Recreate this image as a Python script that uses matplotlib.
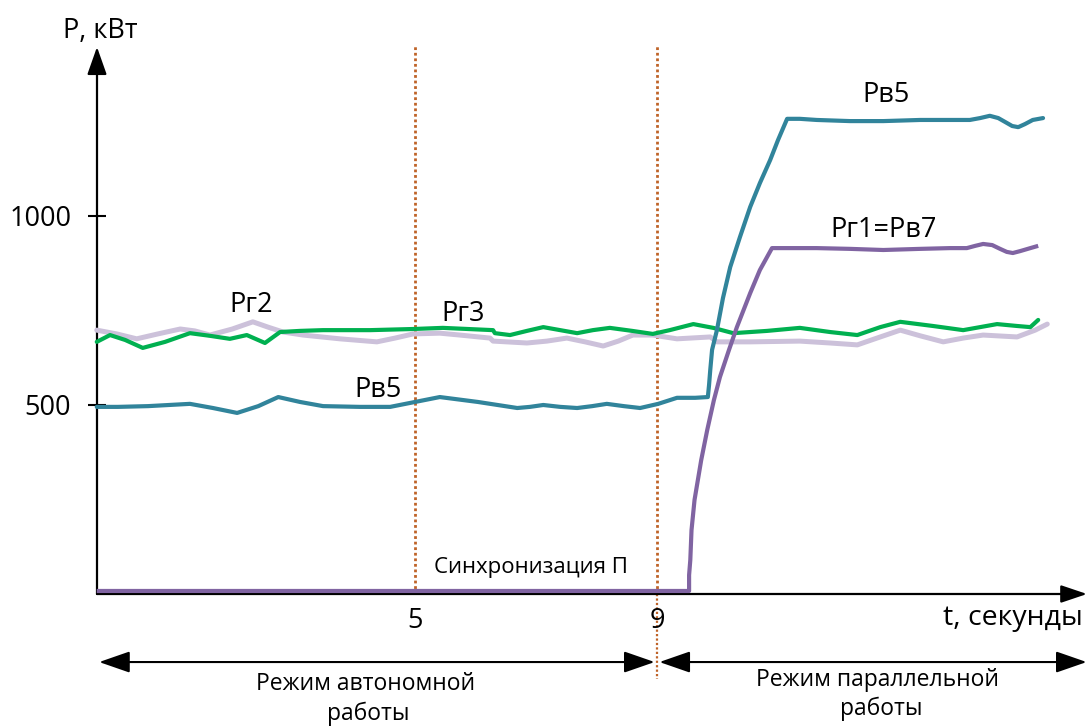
import matplotlib
matplotlib.use("Agg")
import matplotlib.pyplot as plt

FONT = ["Open Sans", "DejaVu Sans"]
plt.rcParams["font.family"] = FONT

# ---------------- data (t in seconds, P in kW) ----------------
# Pв5 (teal)
pv5_t = [-0.26, 0.09, 0.59, 1.28, 1.66, 2.06, 2.41, 2.74, 3.10, 3.48, 4.09, 4.59,
         5.00, 5.41, 6.04, 6.69, 6.90, 7.12, 7.40, 7.68, 7.93, 8.17, 8.45, 8.72,
         9.02, 9.33, 9.63, 9.84, 9.86, 9.88, 9.91, 9.99, 10.09, 10.21, 10.37,
         10.54, 10.70, 10.87, 11.00, 11.15, 11.36, 11.64, 12.19, 12.74, 13.35,
         13.84, 14.17, 14.34, 14.50, 14.64, 14.75, 14.87, 14.97, 15.08, 15.21, 15.38]
pv5_p = [495, 495, 497, 503, 492, 479, 497, 521, 508, 497, 495, 495,
         508, 521, 508, 492, 495, 500, 495, 492, 497, 503, 497, 492,
         503, 519, 519, 521, 553, 593, 646, 698, 783, 865, 944,
         1024, 1087, 1148, 1201, 1257, 1257, 1254, 1251, 1251, 1254,
         1254, 1254, 1259, 1265, 1259, 1249, 1238, 1235, 1243, 1254, 1259]

# Pг1 = Pв7 (purple)
pg1_t = [-0.26, 9.53, 9.53, 9.55, 9.57, 9.62, 9.73, 9.83, 9.94, 10.04, 10.19,
         10.32, 10.54, 10.70, 10.90, 11.36, 11.64, 12.19, 12.74, 13.35, 13.84,
         14.12, 14.26, 14.39, 14.54, 14.67, 14.78, 14.88, 15.00, 15.17, 15.30]
pg1_p = [8, 8, 50, 90, 169, 249, 354, 434, 513, 574, 646,
         706, 796, 857, 915, 915, 915, 913, 910, 913, 915,
         915, 921, 926, 923, 913, 905, 902, 907, 915, 921]

# Pг3 (green)
pg3_t = [-0.26, -0.04, 0.21, 0.50, 0.87, 1.28, 1.61, 1.94, 2.22, 2.52, 2.77,
         3.10, 3.48, 4.26, 4.97, 5.46, 6.29, 6.32, 6.57, 6.85, 7.12, 7.40, 7.68,
         7.94, 8.22, 8.59, 8.93, 9.21, 9.60, 9.93, 10.26, 10.82, 11.36, 11.86,
         12.31, 12.69, 13.02, 13.56, 14.06, 14.62, 14.95, 15.17, 15.30]
pg3_p = [667, 685, 672, 651, 667, 690, 683, 675, 685, 664, 693,
         696, 698, 698, 701, 704, 698, 690, 685, 696, 706, 698, 690,
         698, 704, 696, 688, 698, 714, 704, 690, 696, 704, 693,
         685, 706, 720, 709, 698, 714, 709, 706, 725]

# Pг2 (lavender)
pg2_t = [-0.26, 0.07, 0.40, 0.75, 1.12, 1.36, 1.61, 1.98, 2.32, 2.57, 2.82,
         3.15, 3.76, 4.37, 4.67, 4.97, 5.41, 5.74, 6.24, 6.29, 6.85, 7.18, 7.51,
         7.81, 8.11, 8.36, 8.60, 8.93, 9.33, 9.88, 9.99, 10.54, 11.36, 11.86,
         12.31, 12.69, 13.02, 13.35, 13.73, 14.06, 14.39, 14.95, 15.25, 15.45]
pg2_p = [698, 688, 675, 688, 701, 696, 685, 701, 720, 706, 693,
         685, 675, 667, 677, 688, 690, 685, 677, 669, 664, 669, 677,
         667, 656, 669, 685, 685, 675, 680, 667, 667, 669, 664,
         659, 680, 698, 683, 667, 677, 685, 680, 698, 714]

y_ticks = [500, 1000]
x_ticks = [5, 9]
x_tick_labels = ["5", "9"]
mode_split = 9.0
sync_marks = [5, 9]

# ---------------- figure ----------------
W, H = 1088, 726
fig = plt.figure(figsize=(W / 100, H / 100), dpi=100)
left_px, right_px, bottom_px, top_px = 97, 1086, 594, 47
ax = fig.add_axes([left_px / W, (H - bottom_px) / H,
                   (right_px - left_px) / W, (bottom_px - top_px) / H])
ax.set_xlim(-0.256, 16.09)
ax.set_ylim(0, 1447)
for s in ax.spines.values():
    s.set_visible(False)

# axes arrows
ax.annotate("", xy=(0, 1), xytext=(0, 0), xycoords="axes fraction",
            arrowprops=dict(arrowstyle="-|>,head_length=0.85,head_width=0.3",
                            mutation_scale=20, color="black", lw=1.6,
                            shrinkA=0, shrinkB=0))
ax.annotate("", xy=(1.001, 0), xytext=(0, 0), xycoords="axes fraction",
            arrowprops=dict(arrowstyle="-|>,head_length=0.8,head_width=0.27",
                            mutation_scale=20, color="black", lw=1.6,
                            shrinkA=0, shrinkB=0))

# ticks
ax.set_yticks(y_ticks)
ax.set_yticklabels([str(v) for v in y_ticks])
ax.tick_params(axis="y", direction="inout", length=13, width=1.5,
               pad=12, labelsize=19.5, colors="black")
ax.set_xticks(x_ticks)
ax.set_xticklabels(x_tick_labels)
ax.tick_params(axis="x", length=0, pad=9, labelsize=19.5)

# vertical dotted lines
dot_c = "#BF6328"
ax.plot([sync_marks[0]] * 2, [0, 1452], ls=(0, (1, 1)), lw=2.0,
        color=dot_c, clip_on=False, zorder=1)
ax.plot([sync_marks[1]] * 2, [0, 1452], ls=(0, (1, 1)), lw=2.0,
        color=dot_c, clip_on=False, zorder=1)
ax.plot([sync_marks[1]] * 2, [0, -225], ls=(0, (1, 1)), lw=1.6,
        color=dot_c, clip_on=False, zorder=1)

# series
ax.plot(pg2_t, pg2_p, color="#CCC1DA", lw=3.6, solid_capstyle="round",
        solid_joinstyle="round", clip_on=False, zorder=3)
ax.plot(pg3_t, pg3_p, color="#00B050", lw=3.0, solid_capstyle="round",
        solid_joinstyle="round", clip_on=False, zorder=4)
ax.plot(pv5_t, pv5_p, color="#31849B", lw=3.0, solid_capstyle="round",
        solid_joinstyle="round", clip_on=False, zorder=5)
ax.plot(pg1_t, pg1_p, color="#8064A2", lw=3.0, solid_capstyle="butt",
        solid_joinstyle="round", clip_on=False, zorder=6)

# labels
fs = 19.5
ax.text(-0.21, 1471, "P, кВт", ha="center", va="baseline", fontsize=fs, clip_on=False)
ax.text(13.73, -82, "t, секунды", ha="left", va="baseline", fontsize=20.5, clip_on=False)
ax.text(2.29, 746, "Pг2", ha="center", va="baseline", fontsize=fs)
ax.text(5.79, 722, "Pг3", ha="center", va="baseline", fontsize=fs)
ax.text(4.39, 521, "Pв5", ha="center", va="baseline", fontsize=fs)
ax.text(12.78, 1302, "Pв5", ha="center", va="baseline", fontsize=fs)
ax.text(12.75, 944, "Pг1=Pв7", ha="center", va="baseline", fontsize=fs)
ax.text(6.92, 56, "Синхронизация П", ha="center", va="baseline", fontsize=16)

# mode arrows
ya = -180
ax.annotate("", xy=(-0.22, ya), xytext=(mode_split - 0.04, ya), xycoords="data",
            annotation_clip=False,
            arrowprops=dict(arrowstyle="<|-|>,head_length=0.95,head_width=0.33",
                            mutation_scale=20, color="black", lw=1.5,
                            shrinkA=0, shrinkB=0))
ax.annotate("", xy=(mode_split + 0.04, ya), xytext=(16.1, ya), xycoords="data",
            annotation_clip=False,
            arrowprops=dict(arrowstyle="<|-|>,head_length=0.95,head_width=0.33",
                            mutation_scale=20, color="black", lw=1.5,
                            shrinkA=0, shrinkB=0))
fs2 = 16.5
ax.text(4.19, -255, "Режим автономной", ha="center", va="baseline", fontsize=fs2, clip_on=False)
ax.text(4.22, -333, "работы", ha="center", va="baseline", fontsize=fs2, clip_on=False)
ax.text(12.65, -243, "Режим параллельной", ha="center", va="baseline", fontsize=fs2, clip_on=False)
ax.text(12.70, -321, "работы", ha="center", va="baseline", fontsize=fs2, clip_on=False)

fig.savefig("out.png", dpi=100)
